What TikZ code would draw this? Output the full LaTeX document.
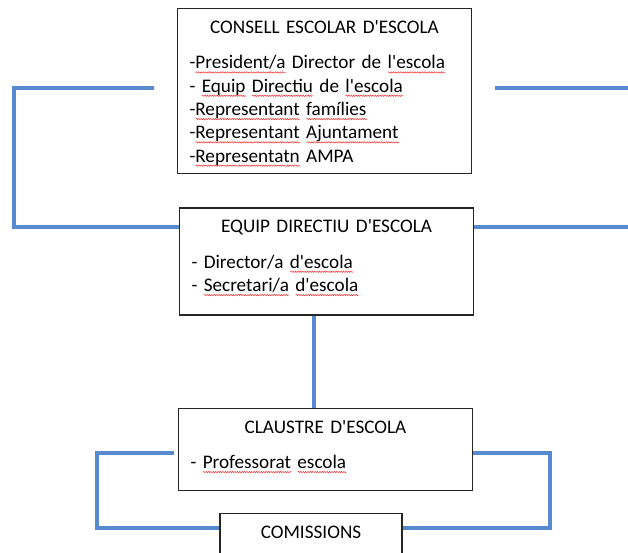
\documentclass[tikz,border=0pt]{standalone}
\usepackage{fontspec}
\setmainfont{Carlito}[Ligatures=TeXOff, WordSpace=0.8]
\usepackage{xcolor}
\usepackage{tikz}
\usetikzlibrary{positioning}
\usetikzlibrary{decorations.pathmorphing}

\definecolor{linkblue}{RGB}{86,139,209}
\newsavebox{\spellbox}
\newlength{\spellwd}
\newcommand{\spell}[1]{\sbox{\spellbox}{#1}\setlength{\spellwd}{\wd\spellbox}\rlap{\tikz[baseline=0pt]\draw[draw=red!85, line width=0.45pt, decorate, decoration={snake, amplitude=0.7pt, segment length=2.4pt}] (0pt,-3.5pt) -- (\spellwd,-3.5pt);}\usebox{\spellbox}}
\newcommand{\boxtitle}[1]{\makebox[\linewidth]{#1}\\[12pt]}

\begin{document}
\begin{tikzpicture}[
            x=1pt, y=-1pt,
            every node/.style={draw=black!85, line width=1.3pt, font=\fontsize{19.2}{23.3}\selectfont, text width=270pt, align=left, inner xsep=12pt, inner ysep=6pt, text height=19pt},
            link/.style={draw=linkblue, line width=4pt},
            node distance=33pt
        ]
            \useasboundingbox (0,0) rectangle (628,552);
            \node [anchor=north, text depth=134pt] (consell) at (324.5,8) {\boxtitle{CONSELL ESCOLAR D'ESCOLA}
                -\spell{President/a} Director de \spell{l'escola}\\
                - \spell{Equip} \spell{Directiu} de \spell{l'escola}\\
                -\spell{Representant} \spell{famílies}\\
                -\spell{Representant} \spell{Ajuntament}\\
                -\spell{Representatn} AMPA};
            \node [below=of consell, xshift=2pt, text depth=76pt] (equip) {\boxtitle{EQUIP DIRECTIU D'ESCOLA}
                - Director/a \spell{d'escola}\\
                - \spell{Secretari/a} \spell{d'escola}};
            \node [below=92pt of equip, xshift=-1pt, text depth=51pt] (claustre) {\boxtitle{CLAUSTRE D'ESCOLA}
                - \spell{Professorat} \spell{escola}};
            \node [below=22pt of claustre, xshift=-14.5pt, text width=158pt, align=center, text depth=15pt] (comissions) {COMISSIONS};
            \coordinate (consellw) at ([xshift=-23pt, yshift=3.5pt]consell.west);
            \coordinate (conselle) at ([xshift=23pt, yshift=3.5pt]consell.east);
            \coordinate (claustrew) at ([xshift=-4pt, yshift=-4pt]claustre.west);
            \coordinate (claustree) at ([yshift=-4pt]claustre.east);
            \draw [link] (consellw) -- ++(-140,0) |- ([yshift=-20pt]equip.north west);
            \draw [link] (conselle) -- ++(150,0) |- ([yshift=-20pt]equip.north east);
            \draw [link] ([xshift=-13pt]equip.south) -- ([xshift=-13pt]equip.south |- claustre.north);
            \draw [link] (claustrew) -- ++(-77,0) |- ([yshift=-15pt]comissions.north west);
            \draw [link] (claustree) -- ++(77,0) |- ([yshift=-15pt]comissions.north east);
        \end{tikzpicture}
\end{document}
